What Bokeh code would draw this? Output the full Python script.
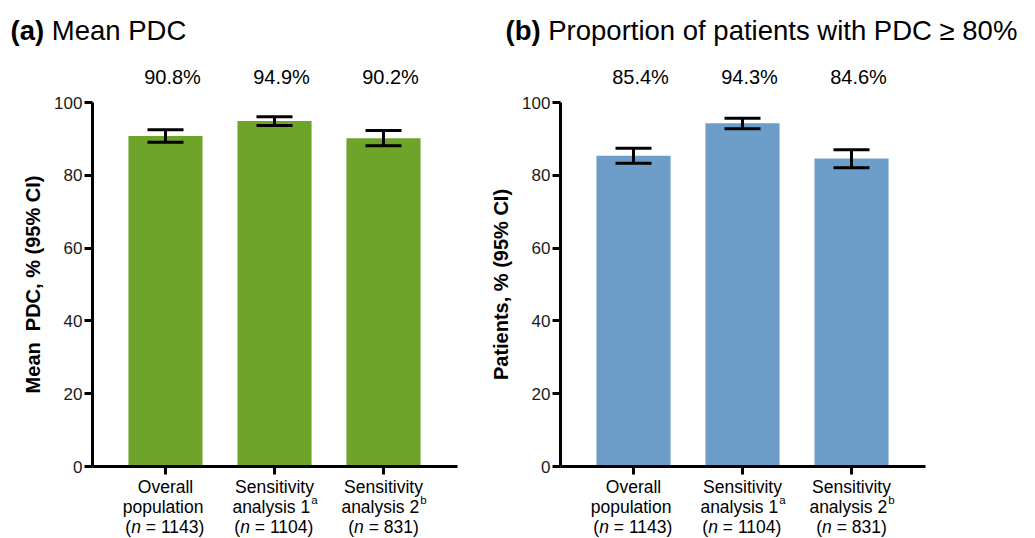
from bokeh.plotting import figure
from bokeh.models import ColumnDataSource, Whisker, TeeHead, FixedTicker, Range1d, Label
from bokeh.layouts import row
from bokeh.embed import file_html
from bokeh.resources import INLINE

# ---- data -----------------------------------------------------------------
category_line1 = ["Overall", "Sensitivity", "Sensitivity"]
category_line2 = ["population", "analysis 1", "analysis 2"]
category_note = ["", "a", "b"]
category_n = ["1143", "1104", "831"]

mean_pdc = [90.8, 94.9, 90.2]
mean_pdc_lower = [89.1, 93.7, 88.1]
mean_pdc_upper = [92.5, 96.1, 92.3]

prop_pdc80 = [85.4, 94.3, 84.6]
prop_pdc80_lower = [83.3, 92.8, 82.1]
prop_pdc80_upper = [87.4, 95.7, 87.0]

y_ticks = [0, 20, 40, 60, 80, 100]

# ---- layout constants -------------------------------------------------------
FONT = "Liberation Sans"
HEIGHT = 538
Y0_PX, Y100_PX = 466, 102          # page rows of y = 0 and y = 100
PX_PER_Y = (Y0_PX - Y100_PX) / 100.0
FIRST_CENTER_PX = 165              # column of the first bar inside a panel
PX_PER_X = 109.0                   # distance between bar centres
X_LO, X_HI = -0.67, 2.68           # extent of the x axis line
BASELINE_FIX = 0.4                 # Label baseline correction, in em

# Arial / Liberation Sans advance widths (em/1000) for composing mixed-style text
WIDTHS = {"(": 333, ")": 333, " ": 278, "=": 584, "n": 556, "a": 556, "l": 222,
          "y": 500, "s": 500, "i": 222, "b": 556}
BOLD_WIDTHS = {"(": 333, ")": 333, "a": 556, "b": 611, " ": 278}
for d in "0123456789":
    WIDTHS[d] = 556


def text_w(s, size, bold=False):
    table = BOLD_WIDTHS if bold else WIDTHS
    return sum(table.get(ch, 556) for ch in s) * size / 1000.0


def y_from_px(px):
    return (Y0_PX - px) / PX_PER_Y


def x_from_px(px):
    return (px - FIRST_CENTER_PX) / PX_PER_X


def put_text(p, x, baseline_px, text, size, x_offset=0, align="left", style="normal"):
    """Place a text whose alphabetic baseline sits on page row baseline_px."""
    y = y_from_px(baseline_px - BASELINE_FIX * size)
    p.add_layout(Label(x=x, y=y, x_offset=x_offset, text=text, text_font=FONT,
                       text_font_size=f"{size}px", text_font_style=style,
                       text_align=align, text_baseline="alphabetic", text_color="black"))


def make_panel(values, lower, upper, color, ylabel, tag, title, width, title_px):
    src = ColumnDataSource(dict(x=[0, 1, 2], value=values, lower=lower, upper=upper,
                                label=[f"{v:.1f}%" for v in values]))
    p = figure(width=width, height=HEIGHT, output_backend="svg", toolbar_location=None,
               x_range=Range1d(x_from_px(0), x_from_px(width)),
               y_range=Range1d(y_from_px(HEIGHT), y_from_px(0)),
               min_border=0, min_border_left=0, min_border_right=0,
               min_border_top=0, min_border_bottom=0)
    p.title.visible = False
    p.outline_line_color = None
    p.xgrid.grid_line_color = None
    p.ygrid.grid_line_color = None
    p.background_fill_color = "white"
    p.border_fill_color = "white"

    p.vbar(x="x", top="value", width=0.68, source=src, fill_color=color, line_color=None)

    head = dict(size=36, line_width=3, line_color="black")
    p.add_layout(Whisker(source=src, base="x", lower="lower", upper="upper",
                         line_width=3, line_color="black", level="annotation",
                         lower_head=TeeHead(**head), upper_head=TeeHead(**head)))

    # axes pinned to y = 0 and to the left end of the category axis
    xa, ya = p.xaxis[0], p.yaxis[0]
    xa.fixed_location = 0
    xa.bounds = (X_LO, X_HI)
    ya.fixed_location = X_LO
    ya.bounds = (0, 100)
    for ax in (xa, ya):
        ax.axis_line_width = 3
        ax.axis_line_color = "black"
        ax.major_tick_line_width = 3
        ax.major_tick_line_color = "black"
        ax.major_tick_out = 8
        ax.major_tick_in = 0
        ax.minor_tick_line_color = None
    xa.ticker = FixedTicker(ticks=[0, 1, 2])
    xa.major_label_text_color = None
    xa.major_label_text_font_size = "1px"
    ya.ticker = FixedTicker(ticks=y_ticks)
    ya.major_label_text_font = FONT
    ya.major_label_text_font_size = "17px"
    ya.major_label_text_color = "#1a1a1a"
    ya.major_label_standoff = 2
    ya.axis_label = ylabel
    ya.axis_label_text_font = FONT
    ya.axis_label_text_font_size = "20px"
    ya.axis_label_text_font_style = "bold"
    ya.axis_label_text_color = "black"
    ya.axis_label_standoff = 7

    # panel title: bold tag followed by regular text
    tsize = 27.5
    tx = x_from_px(title_px)
    put_text(p, tx, 41, tag, tsize, style="bold")
    put_text(p, tx, 41, title, tsize,
             x_offset=text_w(tag, tsize, bold=True) + text_w(" ", tsize))

    # value labels above the plot
    for i, lab in enumerate(src.data["label"]):
        put_text(p, i, 84, lab, 20, x_offset=7, align="center")

    # category labels (three lines, italic n, superscript notes)
    cs = 17.5
    sup = 11.5
    for i in range(3):
        put_text(p, i, 493, category_line1[i], cs, align="center")
        l2 = category_line2[i]
        note = category_note[i]
        w2 = text_w(l2, cs) + (text_w(note, sup) if note else 0)
        put_text(p, i, 513.5, l2, cs, x_offset=-w2 / 2)
        if note:
            put_text(p, i, 504.5, note, sup, x_offset=-w2 / 2 + text_w(l2, cs) + 1)
        pieces = [("(", "normal"), ("n", "italic"), (f" = {category_n[i]})", "normal")]
        w3 = sum(text_w(s, cs) for s, _ in pieces)
        off = -w3 / 2
        for s, style in pieces:
            lead = len(s) - len(s.lstrip(" "))
            put_text(p, i, 533, s.lstrip(" "), cs, style=style,
                     x_offset=off + text_w(" " * lead, cs))
            off += text_w(s, cs)
    return p


pa = make_panel(mean_pdc, mean_pdc_lower, mean_pdc_upper, "#6ea42a",
                "Mean\u00a0 PDC, % (95% CI)", "(a)", "Mean PDC", 468, 10)
pb = make_panel(prop_pdc80, prop_pdc80_lower, prop_pdc80_upper, "#6d9ec9",
                "Patients, % (95% CI)", "(b)", "Proportion of patients with PDC \u2265 80%",
                567, 505 - 468)

layout = row(pa, pb)
open("out.html", "w").write(file_html(layout, INLINE))
